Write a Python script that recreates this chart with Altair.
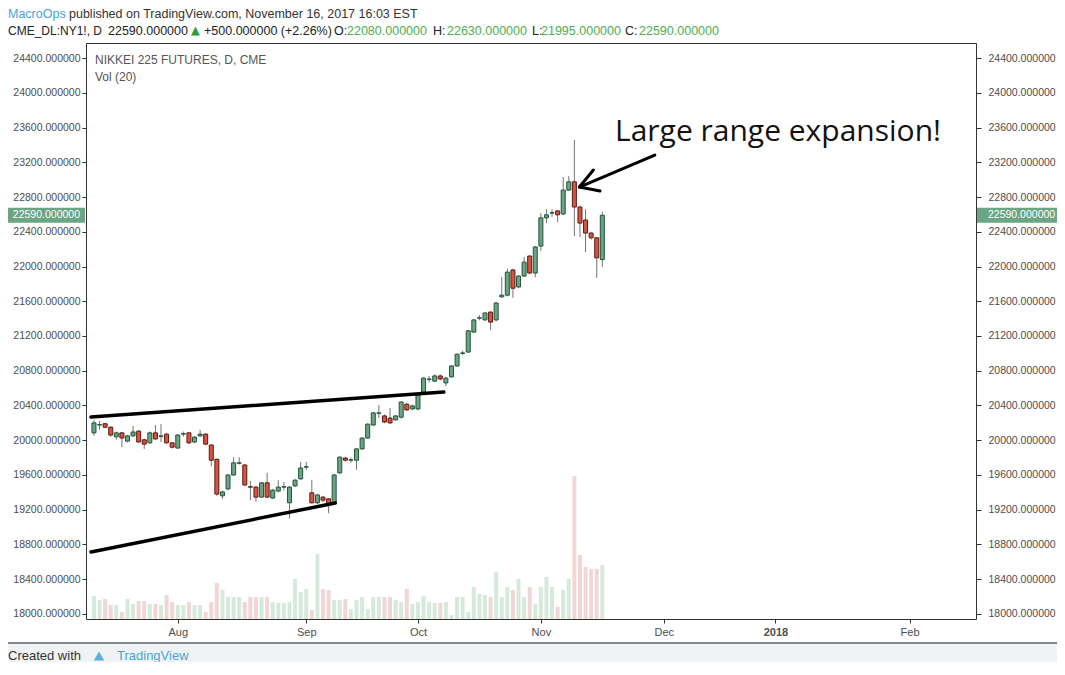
import altair as alt
import pandas as pd

# ---------------- data ----------------
opens = [20085, 20175, 20190, 20150, 20040, 20085, 19990, 20050, 20105, 20005,
         19970, 20085, 20045, 20070, 19970, 19910, 20070, 20085, 19980, 20050,
         20070, 19945, 19780, 19360, 19440, 19600, 19735, 19715, 19465, 19460,
         19345, 19510, 19335, 19415, 19460, 19280, 19475, 19555, 19690, 19395,
         19280, 19345, 19325, 19280, 19625, 19795, 19770, 19770, 19900, 20025,
         20175, 20310, 20280, 20255, 20235, 20265, 20415, 20360, 20360, 20555,
         20700, 20680, 20740, 20660, 20730, 20855, 21000, 21015, 21245, 21405,
         21385, 21475, 21385, 21650, 21670, 21960, 21765, 21890, 22120, 21925,
         22235, 22560, 22615, 22640, 22605, 22880, 22975, 22685, 22535, 22385,
         22330, 22080]
highs = [20235, 20220, 20200, 20160, 20100, 20095, 20060, 20165, 20115, 20015,
         20100, 20175, 20185, 20085, 19980, 20070, 20100, 20095, 20050, 20120,
         20080, 19955, 19790, 19420, 19610, 19805, 19805, 19725, 19530, 19475,
         19520, 19625, 19440, 19540, 19520, 19475, 19555, 19750, 19750, 19545,
         19385, 19360, 19335, 19610, 19815, 19810, 19800, 19910, 20035, 20195,
         20325, 20405, 20295, 20370, 20290, 20450, 20430, 20410, 20530, 20725,
         20740, 20760, 20755, 20730, 20865, 21000, 21030, 21270, 21395, 21440,
         21475, 21485, 21590, 21880, 21975, 21975, 21900, 22110, 22135, 22235,
         22615, 22660, 22660, 22650, 23030, 23040, 23455, 22700, 22660, 22400,
         22340, 22630]
lows = [20050, 20120, 20140, 20040, 20005, 19920, 19975, 20040, 19970, 19900,
        19960, 20000, 19980, 19960, 19905, 19900, 20040, 19955, 19965, 20040,
        19945, 19700, 19360, 19325, 19425, 19590, 19720, 19470, 19310, 19290,
        19335, 19335, 19325, 19400, 19420, 19100, 19460, 19545, 19660, 19270,
        19265, 19290, 19160, 19270, 19610, 19755, 19740, 19660, 19890, 20015,
        20165, 20255, 20195, 20185, 20225, 20250, 20335, 20345, 20345, 20545,
        20665, 20670, 20690, 20620, 20720, 20845, 20980, 21005, 21235, 21380,
        21375, 21270, 21370, 21640, 21655, 21640, 21750, 21880, 21910, 21875,
        22180, 22500, 22570, 22510, 22590, 22870, 22350, 22340, 22165, 22310,
        21870, 21995]
closes = [20200, 20180, 20150, 20060, 20085, 20025, 20050, 20095, 19980, 19955,
          20085, 20015, 20050, 19970, 19920, 20060, 20075, 19970, 20035, 20070,
          19955, 19770, 19380, 19405, 19600, 19740, 19740, 19485, 19460, 19345,
          19510, 19345, 19425, 19460, 19465, 19460, 19540, 19680, 19695, 19280,
          19370, 19310, 19255, 19600, 19805, 19770, 19775, 19900, 20025, 20185,
          20315, 20315, 20210, 20200, 20280, 20440, 20350, 20395, 20520, 20715,
          20705, 20740, 20705, 20715, 20855, 20990, 21005, 21260, 21385, 21410,
          21465, 21360, 21580, 21670, 21935, 21750, 21890, 22050, 21925, 22225,
          22560, 22595, 22620, 22595, 22880, 22975, 22685, 22500, 22385, 22330,
          22100, 22590]
volumes = [2300, 1900, 2000, 1400, 1400, 700, 2000, 1500, 1800, 1800,
           1500, 1500, 1400, 2400, 1700, 1400, 1400, 1700, 1400, 1400,
           700, 1700, 3600, 2900, 2200, 2200, 2200, 1700, 2200, 2200,
           2200, 2200, 1700, 1600, 1600, 1700, 4000, 2700, 3000, 900,
           6500, 3000, 2900, 1900, 1900, 2000, 1000, 1900, 2200, 1000,
           2200, 2200, 2200, 2200, 1900, 1700, 3000, 1500, 1700, 2300,
           1700, 1600, 1600, 1700, 400, 2200, 2200, 700, 3200, 2500,
           2400, 2200, 4700, 2200, 3200, 2900, 4000, 2200, 3200, 1500,
           3200, 4200, 3200, 1200, 2900, 4000, 14300, 6400, 5200, 5000,
           5000, 5400]

price_ticks = list(range(18000, 24401, 400))
month_ticks = [15, 38, 58, 80, 102, 122, 146]
month_labels = ["Aug", "Sep", "Oct", "Nov", "Dec", "2018", "Feb"]

# drawn annotations (bar index, price)
seg_names = ["upper", "upper", "lower", "lower"]
seg_i = [-0.53, 62.65, -0.53, 43.2]
seg_p = [20267, 20555, 18713, 19277]
arrow_names = ["shaft", "shaft", "head1", "head1", "head2", "head2"]
arrow_i = [100.4, 86.9, 86.9, 89.4, 86.9, 90.6]
arrow_p = [23283, 22915, 22915, 23111, 22915, 22869]

last_close = 22590

# ---------------- styling ----------------
FONT = "Liberation Sans"
UP, DN = "#6ba583", "#d75442"
UPB, DNB = "#225437", "#5b1a13"
VUP, VDN = "#d6e9dd", "#f0d6d6"
BLUE = "#4aa3d3"
GREEN_TXT = "#4caf50"
W, H = 890, 576

df = pd.DataFrame({"i": list(range(len(opens))), "open": opens, "high": highs,
                   "low": lows, "close": closes, "vol": volumes})
seg_df = pd.DataFrame({"seg": seg_names, "i": seg_i, "p": seg_p})
arr_df = pd.DataFrame({"seg": arrow_names, "i": arrow_i, "p": arrow_p})
tick_df = pd.DataFrame({"p": price_ticks})
last_df = pd.DataFrame({"p": [last_close]})

x_scale = alt.Scale(domain=[-0.53, 157.0], nice=False, zero=False)
y_scale = alt.Scale(domain=[17942, 24573], nice=False, zero=False)

label_expr = "".join(f"datum.value == {v} ? '{l}' : " for v, l in zip(month_ticks, month_labels)) + "''"
x_axis = alt.Axis(values=month_ticks, labelExpr=label_expr, tickSize=4, tickColor="#333",
                  labelPadding=3, labelFontSize=11, labelColor="#4d4d4d", labelFont=FONT,
                  domain=False, grid=False, labelOverlap=False, labelFlush=False,
                  labelFontWeight={"condition": {"test": "datum.value == 122", "value": "bold"},
                                   "value": "normal"})
y_left = alt.Axis(values=price_ticks, format=".6f", orient="left", tickSize=4, tickColor="#333",
                  labelPadding=2, labelFontSize=10.5, labelColor="#4d4d4d", labelFont=FONT,
                  domain=False, grid=False, labelOverlap=False)
y_right = alt.Axis(values=price_ticks, format=".6f", orient="right", tickSize=5, tickColor="#333",
                   labelPadding=7, labelFontSize=10.5, labelColor="#4d4d4d", labelFont=FONT,
                   domain=False, grid=False, labelOverlap=False)

X = alt.X("i:Q", scale=x_scale, axis=x_axis, title=None)


def Yp(field):
    return alt.Y(field, scale=y_scale, axis=y_left, title=None)


up_cond = "datum.close >= datum.open"

vol = alt.Chart(df).mark_bar(width=4).encode(
    x=X,
    y=alt.Y("vol:Q", scale=alt.Scale(domain=[0, 57600], nice=False, zero=True), axis=None, title=None),
    fill=alt.condition(up_cond, alt.value(VUP), alt.value(VDN)),
)

wick = alt.Chart(df).mark_rule(color="#737375", strokeWidth=1).encode(
    x=X, y=Yp("low:Q"), y2="high:Q")
body = alt.Chart(df).mark_bar(width=4, strokeWidth=1).encode(
    x=X, y=Yp("open:Q"), y2="close:Q",
    fill=alt.condition(up_cond, alt.value(UP), alt.value(DN)),
    stroke=alt.condition(up_cond, alt.value(UPB), alt.value(DNB)),
)
trend = alt.Chart(seg_df).mark_line(color="black", strokeWidth=3.5, strokeCap="round").encode(
    x=alt.X("i:Q", scale=x_scale, axis=x_axis, title=None), y=Yp("p:Q"), detail="seg:N")
arrow = alt.Chart(arr_df).mark_line(color="black", strokeWidth=3, strokeCap="round").encode(
    x=alt.X("i:Q", scale=x_scale, axis=x_axis, title=None), y=Yp("p:Q"), detail="seg:N")

box_base = alt.Chart(last_df).transform_calculate(top="datum.p + 85", bot="datum.p - 85")
box_left = box_base.mark_rect(color=UP).encode(
    x=alt.value(-78), x2=alt.value(-1), y=Yp("top:Q"), y2="bot:Q")
box_right = box_base.mark_rect(color=UP).encode(
    x=alt.value(891), x2=alt.value(971), y=Yp("top:Q"), y2="bot:Q")
last_txt_l = alt.Chart(last_df).mark_text(align="right", baseline="middle", color="white",
                                          fontSize=10.5, font=FONT).encode(
    x=alt.value(-6), y=Yp("p:Q"), text=alt.Text("p:Q", format=".6f"))
last_txt_r = alt.Chart(last_df).mark_text(align="left", baseline="middle", color="white",
                                          fontSize=10.5, font=FONT).encode(
    x=alt.value(902), y=Yp("p:Q"), text=alt.Text("p:Q", format=".6f"))

price_layer = alt.layer(wick, body, trend, arrow, box_left, box_right, last_txt_l, last_txt_r)

right_axis = alt.Chart(tick_df).mark_tick(opacity=0).encode(
    y=alt.Y("p:Q", scale=y_scale, axis=y_right, title=None))


def label(text, x, y, size=12.5, color="#333333", align="left", weight="normal", font=FONT):
    return alt.Chart(pd.DataFrame({"t": [text]})).mark_text(
        align=align, baseline="middle", fontSize=size, color=color, font=font, fontWeight=weight
    ).encode(text="t:N", x=alt.value(x), y=alt.value(y))


L1, L2 = -29, -12
DARK = "#222222"
texts = [
    label("MacroOps", -78, L1, color=BLUE),
    label("published on TradingView.com, November 16, 2017 16:03 EST", -17, L1),
    label("CME_DL:NY1!, D", -78, L2, size=12, color=DARK),
    label("22590.000000", 22, L2, color=DARK),
    label("\u25b2", 105, L2, size=11.5, color="#2e9e3e", font="DejaVu Sans"),
    label("+500.000000 (+2.26%)", 118, L2, color=DARK),
    label("O:", 248, L2, color=DARK),
    label("22080.000000", 261, L2, color=GREEN_TXT),
    label("H:", 347, L2, color=DARK),
    label("22630.000000", 361, L2, color=GREEN_TXT),
    label("L:", 446, L2, color=DARK),
    label("21995.000000", 455, L2, color=GREEN_TXT),
    label("C:", 539, L2, color=DARK),
    label("22590.000000", 553, L2, color=GREEN_TXT),
    label("NIKKEI 225 FUTURES, D, CME", 9, 17, size=12, color="#555555"),
    label("Vol (20)", 9, 34, size=12, color="#555555"),
    label("Large range expansion!", 529, 89, size=30, color="#111111", font="Open Sans"),
]

footer_bg = alt.Chart(pd.DataFrame({"a": [0]})).mark_rect(color="#f0f3f6").encode(
    x=alt.value(-78), x2=alt.value(971), y=alt.value(600), y2=alt.value(631))
footer_line = alt.Chart(pd.DataFrame({"a": [0]})).mark_rule(color="#5d6066", strokeWidth=1.5).encode(
    x=alt.value(-78), x2=alt.value(971), y=alt.value(600))
logo = alt.Chart(pd.DataFrame({"a": [0]})).mark_point(shape="triangle-up", filled=True, size=110,
                                                      color="#5ab0e0", opacity=1).encode(
    x=alt.value(13), y=alt.value(613))
footer = [footer_bg, footer_line, logo,
          label("Created with", -78, 613, size=13, color="#333333"),
          label("TradingView", 31, 613, size=13, color=BLUE)]

chart = alt.layer(vol, price_layer, right_axis, *texts, *footer).resolve_scale(
    y="independent"
).properties(
    width=W, height=H,
    padding={"left": 78, "top": 35, "right": 81, "bottom": 43},
    autosize=alt.AutoSizeParams(type="none"),
    background="white",
).configure_view(stroke="#333333", strokeWidth=1)

chart.save("out.html", embed_options={"renderer": "svg", "actions": False})
